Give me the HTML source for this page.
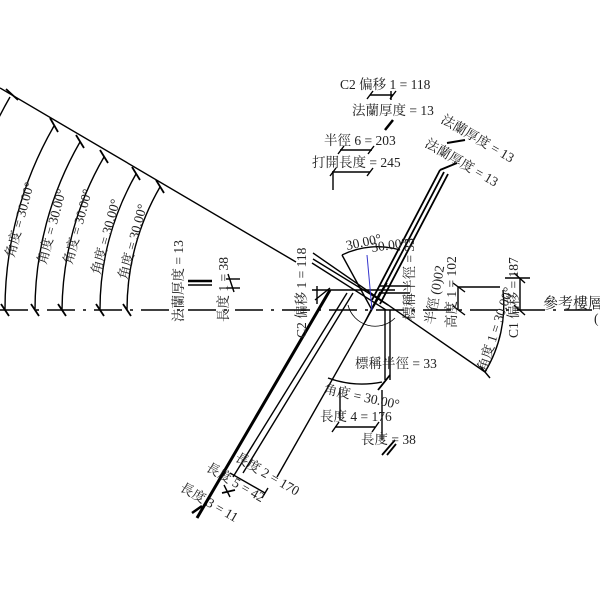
<!DOCTYPE html>
<html><head><meta charset="utf-8"><style>
html,body{margin:0;padding:0;background:#fff}
svg{display:block}
text{font-family:"Liberation Serif","Noto Serif CJK SC","Noto Sans CJK TC",serif;font-size:13.5px;fill:#222}
</style></head><body>
<svg width="600" height="600" viewBox="0 0 600 600" xmlns="http://www.w3.org/2000/svg">
<g stroke="#000" fill="none" stroke-width="1.4">
<line x1="0" y1="310" x2="600" y2="310" stroke-dasharray="28,8,3,8" stroke-width="1.5"/>
<line x1="0" y1="88" x2="296" y2="262"/>
<path d="M10,97 A418,418 0 0 0 -46,310"/>
<path d="M54,126 A367,367 0 0 0 5,310"/>
<path d="M80,142 A337,337 0 0 0 35,310"/>
<path d="M104,157 A310,310 0 0 0 62,310"/>
<path d="M136,174 A272,272 0 0 0 100,310"/>
<path d="M160,187 A245,245 0 0 0 127,310"/>
<g stroke-width="1.8">
<line x1="6" y1="89" x2="18" y2="100"/><line x1="50" y1="118" x2="58" y2="132"/><line x1="76" y1="135" x2="84" y2="148"/><line x1="100" y1="150" x2="108" y2="163"/><line x1="132" y1="167" x2="140" y2="180"/><line x1="156" y1="180" x2="164" y2="193"/>
<line x1="1" y1="304" x2="9" y2="316"/><line x1="31" y1="304" x2="39" y2="316"/><line x1="58" y1="304" x2="66" y2="316"/><line x1="96" y1="304" x2="104" y2="316"/><line x1="123" y1="304" x2="131" y2="316"/>
</g>
<line x1="188" y1="281" x2="212" y2="281" stroke-width="2.5"/><line x1="188" y1="285" x2="212" y2="285"/>
<line x1="226" y1="279" x2="240" y2="279"/><line x1="226" y1="288" x2="240" y2="288"/>
<line x1="228" y1="274" x2="234" y2="292"/>
<line x1="197" y1="518" x2="330" y2="290" stroke-width="3"/>
<line x1="233" y1="477" x2="347" y2="293"/>
<line x1="243" y1="473" x2="353" y2="293"/>
<line x1="277" y1="477" x2="387" y2="283"/>
<line x1="372" y1="300" x2="440" y2="170" stroke-width="1.8"/>
<line x1="376" y1="302" x2="444" y2="172" stroke-width="1.8"/>
<line x1="380" y1="304" x2="448" y2="174" stroke-width="1.8"/>
<line x1="365" y1="322" x2="380" y2="292"/>
<line x1="313" y1="253" x2="485" y2="372"/>
<line x1="313" y1="259" x2="388" y2="305"/>
<line x1="312" y1="263" x2="386" y2="310"/>
<line x1="312" y1="290" x2="395" y2="290"/>
<line x1="380" y1="286" x2="410" y2="286"/>
<line x1="380" y1="293" x2="410" y2="293"/>
<path d="M342,255 A80,80 0 0 1 400,250"/>
<line x1="342" y1="255" x2="372" y2="310"/>
<line x1="367" y1="255" x2="372" y2="310" stroke="#33c" stroke-width="1"/>
<path d="M395,318 A28,28 0 0 1 348,305" stroke-width="0.8"/>
<line x1="385" y1="310" x2="385" y2="380"/><line x1="390" y1="310" x2="390" y2="380"/>
<line x1="382" y1="455" x2="395" y2="440" stroke-width="1.8"/><line x1="387" y1="455" x2="396" y2="444" stroke-width="1.8"/>
<line x1="378" y1="390" x2="390" y2="375" stroke-width="1.8"/>
<line x1="315" y1="300" x2="330" y2="288"/><line x1="317" y1="286" x2="317" y2="304"/>
<line x1="458" y1="287" x2="500" y2="287"/><line x1="458" y1="287" x2="458" y2="310"/>
<line x1="453" y1="283" x2="465" y2="292"/><line x1="453" y1="306" x2="465" y2="315"/>
<line x1="505" y1="278" x2="530" y2="278"/><line x1="520" y1="278" x2="520" y2="310"/>
<line x1="514" y1="273" x2="525" y2="283"/><line x1="514" y1="305" x2="525" y2="315"/>
<path d="M485,372 A130,130 0 0 0 503,290"/>
<line x1="480" y1="366" x2="490" y2="378"/>
<path d="M328,378 A100,100 0 0 0 382,382"/>
<line x1="340" y1="388" x2="340" y2="420"/><line x1="382" y1="390" x2="382" y2="440"/>
<line x1="335" y1="427" x2="375" y2="427"/><line x1="332" y1="432" x2="339" y2="422"/><line x1="372" y1="432" x2="379" y2="422"/>
<line x1="230" y1="473" x2="265" y2="493"/><line x1="262" y1="498" x2="268" y2="488"/>
<line x1="222" y1="493" x2="235" y2="490" stroke-width="1.8"/><line x1="224" y1="485" x2="230" y2="497"/>
<line x1="192" y1="513" x2="202" y2="506" stroke-width="2.5"/>
<line x1="370" y1="95" x2="393" y2="95"/><line x1="367" y1="99" x2="373" y2="91"/><line x1="390" y1="99" x2="396" y2="91"/><line x1="391" y1="91" x2="391" y2="100"/>
<line x1="385" y1="130" x2="393" y2="120" stroke-width="2.5"/>
<line x1="340" y1="150" x2="372" y2="150"/><line x1="338" y1="154" x2="344" y2="146"/><line x1="368" y1="154" x2="374" y2="146"/>
<line x1="332" y1="172" x2="370" y2="172"/><line x1="330" y1="176" x2="336" y2="168"/><line x1="367" y1="176" x2="373" y2="168"/><line x1="333" y1="172" x2="333" y2="190"/>
<line x1="440" y1="170" x2="457" y2="163" stroke-width="2"/>
<line x1="447" y1="143" x2="465" y2="140" stroke-width="2"/>
</g>
<g>
<text transform="translate(14,258) rotate(-75)">角度 = 30.00°</text>
<text transform="translate(46,265) rotate(-75)">角度 = 30.00°</text>
<text transform="translate(72,265) rotate(-75)">角度 = 30.00°</text>
<text transform="translate(100,275) rotate(-75)">角度 = 30.00°</text>
<text transform="translate(127,280) rotate(-75)">角度 = 30.00°</text>
<text transform="translate(183,322) rotate(-90)">法蘭厚度 = 13</text>
<text transform="translate(228,322) rotate(-90)">長度 1 = 38</text>
<text transform="translate(306,338) rotate(-90)">C2 偏移 1 = 118</text>
<text x="340" y="89">C2 偏移 1 = 118</text>
<text x="352" y="115">法蘭厚度 = 13</text>
<text x="324" y="145">半徑 6 = 203</text>
<text x="312" y="167">打開長度 = 245</text>
<text transform="translate(440,122) rotate(30)">法蘭厚度 = 13</text>
<text transform="translate(424,146) rotate(30)">法蘭厚度 = 13</text>
<text transform="translate(347,250) rotate(-12)">30.00°</text>
<text transform="translate(372,252) rotate(-8)">30.00°</text>
<text transform="translate(414,320) rotate(-90)">標稱半徑 = 33</text>
<text transform="translate(434,325) rotate(-80)">半徑 (0)02</text>
<text transform="translate(456,328) rotate(-90)">高度 1 = 102</text>
<text transform="translate(518,338) rotate(-90)">C1 偏移 = 187</text>
<text transform="translate(486,372) rotate(-72)">角度 1 = 30.00°</text>
<text x="543" y="308" style="font-size:15px">參考樓層</text>
<text x="594" y="323">(</text>
<text x="355" y="368">標稱半徑 = 33</text>
<text transform="translate(323,393) rotate(12)">角度 = 30.00°</text>
<text x="320" y="421">長度 4 = 176</text>
<text x="361" y="444">長度 = 38</text>
<text transform="translate(234,460) rotate(30)">長度 2 = 170</text>
<text transform="translate(205,470) rotate(30)">長度 5 = 42</text>
<text transform="translate(179,490) rotate(30)">長度 3 = 11</text>
</g>
</svg>
</body></html>
